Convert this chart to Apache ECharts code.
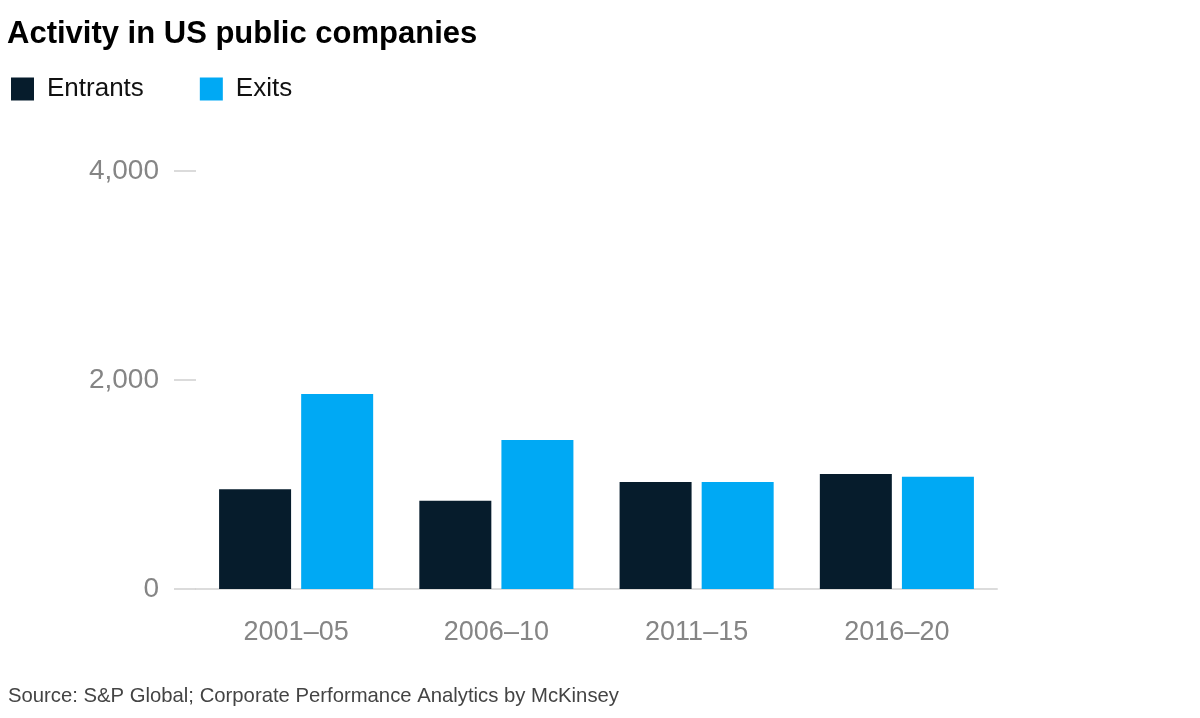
<!DOCTYPE html>
<html><head><meta charset="utf-8">
<script src="https://cdn.jsdelivr.net/npm/echarts@6/dist/echarts.min.js"></script>
<style>html,body{margin:0;padding:0;background:#fff}#c{width:1200px;height:718px}</style>
</head><body><div id="c"></div>
<script>
const categories = ['2001–05', '2006–10', '2011–15', '2016–20'];
const entrants = [955, 845, 1025, 1100];
const exits = [1865, 1425, 1025, 1075];
const yTicks = [0, 2000, 4000];

const FONT = '"Liberation Sans", Arial, sans-serif';
const chart = echarts.init(document.getElementById('c'));
chart.setOption({
  animation: false,
  backgroundColor: '#fff',
  title: {
    text: 'Activity in US public companies',
    left: 2, top: 14,
    textStyle: { fontFamily: FONT, fontSize: 31, fontWeight: 'bold', color: '#000' }
  },
  legend: {
    left: 6, top: 71,
    icon: 'rect', itemWidth: 23, itemHeight: 23, itemGap: 56,
    textStyle: { fontFamily: FONT, fontSize: 26, color: '#111', padding: [2, 0, 0, 8] },
    data: ['Entrants', 'Exits']
  },
  graphic: [{
    type: 'text', left: 8, top: 686,
    style: { text: 'Source: S&P Global; Corporate Performance Analytics by McKinsey', font: '20.3px ' + FONT, fill: '#444' }
  }],
  grid: { left: 196, right: 203, top: 171, bottom: 129 },
  xAxis: {
    type: 'category', data: categories,
    axisLine: { lineStyle: { color: '#dcdcdc', width: 2 } },
    axisTick: { show: false },
    axisLabel: { fontFamily: FONT, fontSize: 27, color: '#858585', margin: 30 }
  },
  yAxis: {
    type: 'value', min: 0, max: 4000, interval: 2000,
    axisLine: { show: false },
    axisTick: { show: true, length: 22, lineStyle: { color: '#d0d0d0', width: 1.5 } },
    splitLine: { show: false },
    axisLabel: {
      fontFamily: FONT, fontSize: 28, color: '#858585', margin: 37,
      formatter: v => yTicks.includes(v) ? v.toLocaleString('en-US') : ''
    }
  },
  series: [
    { name: 'Entrants', type: 'bar', data: entrants, barWidth: 72, barGap: '14%', itemStyle: { color: '#061c2c' } },
    { name: 'Exits', type: 'bar', data: exits, barWidth: 72, itemStyle: { color: '#00a9f4' } }
  ]
});
</script></body></html>
